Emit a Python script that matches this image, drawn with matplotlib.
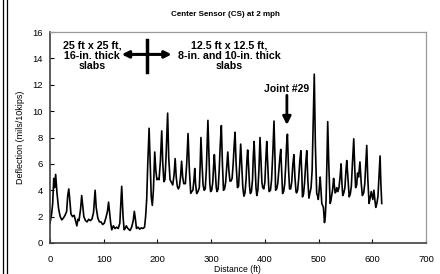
import matplotlib
matplotlib.use("Agg")
import matplotlib.pyplot as plt
from matplotlib.lines import Line2D

plt.rcParams['font.family'] = ['Liberation Sans', 'DejaVu Sans']

# distance along the slab (ft) and deflection (mils/10kips)
dist = [0, 3, 5, 7, 8.5, 10.5, 13, 16, 19, 22, 25, 28, 31, 33, 35, 37, 39, 42, 45, 48,
        50, 52, 54, 57, 59, 61, 63, 66, 69, 72, 75, 78, 81, 84, 86, 89, 92, 95, 98, 101,
        104, 107, 109, 111, 113, 115, 118, 121, 124, 127, 130, 133.5, 136, 138, 140, 142, 145, 149, 152, 155,
        157, 159, 161, 164, 167, 170, 173, 176, 178, 180, 182, 184.5, 186.5, 188.5, 190.5, 192.5, 195, 197, 199, 201,
        203, 205.5, 208, 210, 212, 214, 216, 219, 221, 223.5, 226, 228.5, 231, 233, 235, 237, 239, 241, 243, 245,
        247, 249, 252, 254.5, 257, 259.5, 262, 264, 266, 268, 269.5, 271, 273, 275.5, 278, 279.5, 281, 283, 285, 287,
        289, 291, 292.5, 294, 296, 297.5, 299, 301, 303, 304.5, 306, 308, 309.5, 311, 313, 315, 317, 319, 321, 323,
        325, 327, 329, 331, 333, 335, 337, 339, 341, 343, 344.5, 346.5, 349, 351, 353, 355, 357, 359, 361, 363,
        365, 366.5, 368, 370, 371.5, 373, 375, 377, 378.5, 380, 382, 383.5, 385, 387, 389, 391, 393, 394.5, 396, 398,
        400, 402, 403.5, 405.5, 407, 408, 410.5, 412.5, 415, 417, 419, 420, 422, 424, 426, 428, 429.6, 431.5, 433, 435,
        437, 439, 440.5, 442, 444, 446, 448, 450, 452, 454, 456, 458, 459, 461, 463, 465, 467, 469, 470, 472,
        474, 476, 478, 480, 482, 484, 486, 488, 490, 492, 494, 496.5, 498, 499.5, 501.5, 503, 504.5, 506, 509, 511,
        512.5, 514, 515.5, 517, 519, 521.5, 523, 524, 526, 528, 529.5, 531, 532.5, 534, 536, 538, 540, 542, 543.5, 545,
        547, 549, 551, 552.5, 554.5, 557, 559, 561, 563, 565.5, 567.5, 569, 571, 572.5, 574.5, 577, 579.5, 581.5, 584, 586,
        588, 589.7, 591.5, 594, 596, 598, 600, 601, 603, 605, 606.5, 608.5, 610.5, 612.5, 614.5, 616, 617.6]
defl = [1.5, 2.2, 3.0, 4.9, 4.2, 5.2, 3.8, 2.6, 2.0, 1.75, 1.9, 2.1, 2.4, 3.6, 4.1, 3.2, 2.2, 2.0, 2.1, 1.6,
        1.3, 1.8, 1.7, 2.6, 3.6, 2.8, 2.0, 1.7, 1.6, 1.8, 1.7, 1.8, 2.3, 4.0, 2.7, 1.9, 1.6, 1.6, 1.4, 1.5,
        1.9, 2.4, 3.1, 2.3, 1.5, 1.0, 1.3, 1.1, 1.2, 1.1, 1.5, 4.3, 2.0, 1.0, 1.1, 1.3, 1.1, 0.95, 1.2, 1.7,
        2.4, 1.8, 1.1, 1.2, 1.05, 1.15, 1.1, 1.2, 2.0, 3.3, 6.0, 8.7, 6.0, 3.5, 2.85, 4.0, 6.9, 5.5, 4.8, 4.9,
        4.8, 6.2, 8.5, 6.0, 4.65, 4.8, 6.5, 9.85, 6.5, 4.8, 4.6, 4.4, 5.2, 6.4, 5.0, 4.3, 4.1, 4.3, 5.0, 6.2,
        5.0, 4.5, 4.5, 6.0, 8.3, 5.5, 3.77, 3.9, 4.0, 4.8, 5.65, 4.5, 3.75, 3.9, 4.2, 5.8, 8.0, 6.0, 4.4, 4.0,
        4.1, 5.5, 7.5, 9.3, 6.5, 4.5, 3.9, 4.0, 4.6, 5.8, 6.7, 5.2, 4.2, 3.9, 4.1, 5.5, 7.5, 8.9, 6.0, 4.0,
        4.1, 4.6, 5.8, 6.9, 5.5, 4.7, 4.7, 4.9, 6.0, 7.5, 8.4, 6.0, 4.2, 4.3, 5.8, 7.5, 5.8, 4.2, 3.55, 3.8,
        4.8, 6.2, 7.05, 5.6, 4.3, 3.75, 3.9, 4.8, 6.6, 7.7, 5.8, 4.2, 3.6, 4.0, 5.6, 8.0, 6.0, 4.6, 4.2, 4.1,
        4.6, 6.5, 7.7, 5.8, 4.4, 3.9, 4.0, 4.8, 7.0, 9.25, 6.2, 4.0, 4.1, 4.5, 5.5, 6.5, 7.1, 5.2, 3.75, 3.9,
        4.5, 6.0, 7.5, 8.25, 5.7, 4.1, 4.1, 4.6, 5.9, 6.7, 5.0, 3.9, 3.8, 4.0, 4.9, 6.2, 7.0, 5.0, 3.5, 3.7,
        4.6, 6.0, 7.0, 4.8, 3.4, 3.8, 4.2, 5.5, 9.0, 12.8, 7.5, 3.77, 3.6, 3.3, 4.2, 5.0, 4.0, 3.0, 2.7, 1.55,
        2.0, 3.3, 6.0, 9.2, 6.0, 3.0, 3.2, 3.5, 4.0, 4.9, 4.3, 3.8, 3.9, 4.2, 3.9, 4.2, 5.0, 6.0, 4.5, 3.6,
        3.8, 4.2, 5.5, 6.25, 5.0, 3.5, 3.7, 4.3, 6.0, 7.9, 5.5, 4.2, 4.4, 5.3, 5.0, 6.15, 4.5, 3.6, 3.8, 4.5,
        6.0, 7.4, 5.0, 3.0, 3.4, 3.9, 3.5, 3.3, 4.0, 3.2, 2.7, 3.0, 3.5, 5.0, 6.6, 4.5, 3.0]

xticks = [0, 100, 200, 300, 400, 500, 600, 700]
yticks = [0, 2, 4, 6, 8, 10, 12, 14, 16]

fig = plt.figure(figsize=(4.4, 2.74), dpi=100)
ax = fig.add_axes([50/440, 31/274, 376/440, 211/274])

ax.plot(dist, defl, color='black', lw=1.2)

ax.set_xlim(0, 700)
ax.set_ylim(0, 16)
ax.set_xticks(xticks)
ax.set_yticks(yticks)
ax.tick_params(axis='both', direction='in', length=3, labelsize=6.8, colors='black')
ax.tick_params(axis='x', pad=9)
ax.tick_params(axis='y', pad=5)

for s in ['left', 'bottom']:
    ax.spines[s].set_color('#404040')
    ax.spines[s].set_linewidth(1.2)
for s in ['top', 'right']:
    ax.spines[s].set_color('#999999')
    ax.spines[s].set_linewidth(0.9)

ax.set_ylabel('Deflection (mils/10kips)', fontsize=6.5, labelpad=5)
# x label sits right at the bottom edge, like in the source figure
fig.text(237/440, 0.0, 'Distance (ft)', fontsize=6.2, ha='center', va='bottom')
fig.text(225/440, 1 - 15/274, 'Center Sensor (CS) at 2 mph', fontsize=5.8,
         fontweight='bold', ha='center', va='center')

# annotations
ax.text(78, 14.2, '25 ft x 25 ft,\n16-in. thick\nslabs', fontsize=7.7, fontweight='bold',
        ha='center', va='center', linespacing=1.0)
ax.text(334, 14.2, '12.5 ft x 12.5 ft,\n8-in. and 10-in. thick\nslabs', fontsize=7.7,
        fontweight='bold', ha='center', va='center', linespacing=1.0)
ax.annotate('', xy=(133.5, 14.3), xytext=(226.5, 14.3),
            arrowprops=dict(arrowstyle='<|-|>', lw=2.2, color='black', mutation_scale=10,
                            shrinkA=0, shrinkB=0))
ax.plot([181, 181], [13.0, 15.4], color='black', lw=2.5)

ax.text(440, 11.7, 'Joint #29', fontsize=7.5, fontweight='bold', ha='center', va='center')
ax.annotate('', xy=(441, 8.95), xytext=(441, 11.2),
            arrowprops=dict(arrowstyle='-|>', lw=2.0, color='black', mutation_scale=12,
                            shrinkA=0, shrinkB=0))

# double rule on the left edge of the page
for xp in [2.5, 6.5]:
    fig.add_artist(Line2D([xp/440, xp/440], [0, 1], transform=fig.transFigure,
                          color='black', lw=0.9))

fig.savefig('out.png', dpi=100)
